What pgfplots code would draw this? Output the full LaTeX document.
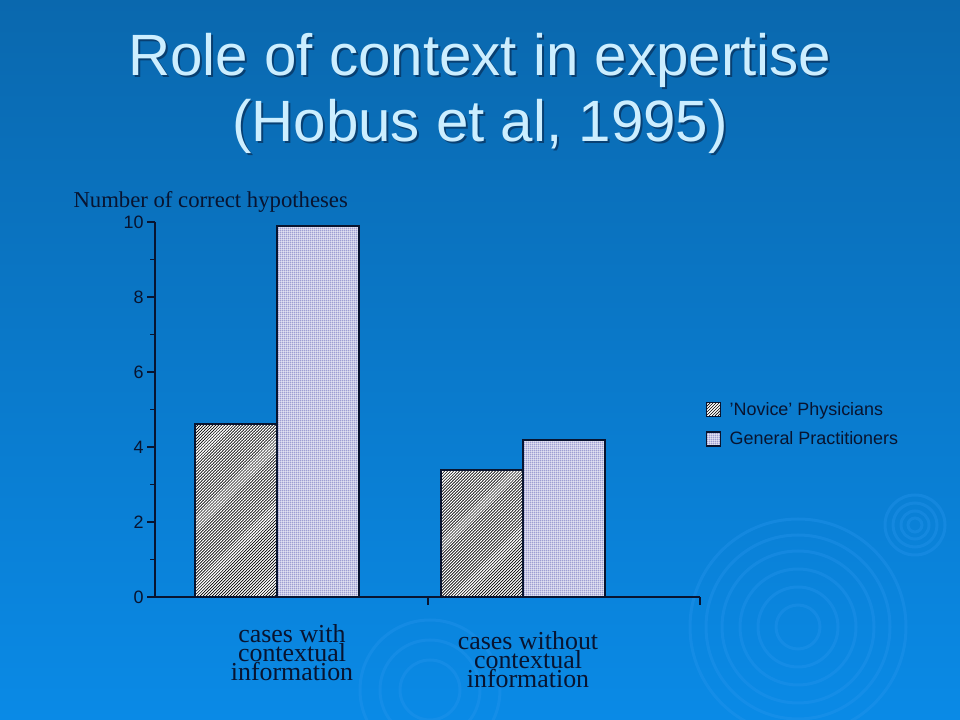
\documentclass[border=0pt]{standalone}
\usepackage{pgfplots}
\pgfplotsset{compat=1.18}
\usetikzlibrary{patterns}
\usepackage{fontspec}
\setmainfont{Liberation Sans}
\newfontfamily\serif{Liberation Serif}
\definecolor{bgtop}{RGB}{10,104,174}
\definecolor{bgbot}{RGB}{10,138,230}
\definecolor{titlecol}{RGB}{204,238,255}
\definecolor{axiscol}{RGB}{8,20,48}
\definecolor{dotcol}{RGB}{30,30,150}
\definecolor{ripple}{RGB}{40,150,238}
\pgfdeclarepatternformonly{mylines}{\pgfqpoint{-1pt}{-1pt}}{\pgfqpoint{4pt}{4pt}}{\pgfqpoint{3pt}{3pt}}{%
  \pgfsetlinewidth{1.1pt}\pgfpathmoveto{\pgfqpoint{-0.2pt}{-0.2pt}}\pgfpathlineto{\pgfqpoint{3.2pt}{3.2pt}}\pgfusepath{stroke}}
\pgfdeclarepatternformonly{mydots}{\pgfqpoint{0pt}{0pt}}{\pgfqpoint{2pt}{2pt}}{\pgfqpoint{2pt}{2pt}}{%
  \pgfpathrectangle{\pgfqpoint{0.5pt}{0.5pt}}{\pgfqpoint{0.8pt}{0.8pt}}\pgfusepath{fill}}
\begin{document}
\begin{tikzpicture}[x=1bp,y=1bp]
\useasboundingbox (0,0) rectangle (960,720);
\clip (0,0) rectangle (960,720);
\shade[top color=bgtop, bottom color=bgbot] (0,0) rectangle (960,720);
% decorative ripples
\begin{scope}[draw=ripple, line width=3bp, opacity=0.35]
\foreach \r in {22,40,58,76,92,108} \draw (798,93) circle (\r);
\foreach \r in {7,14,22,30} \draw (915,195) circle (\r);
\foreach \r in {30,50,70} \draw (430,30) circle (\r);
\end{scope}
% title
\node[anchor=base, font=\fontsize{58.5}{66}\selectfont, text=axiscol, opacity=0.5] at (482,642) {Role of context in expertise};
\node[anchor=base, font=\fontsize{58.5}{66}\selectfont, text=titlecol] at (480,644) {Role of context in expertise};
\node[anchor=base, font=\fontsize{58.5}{66}\selectfont, text=axiscol, opacity=0.5] at (482,576) {(Hobus et al, 1995)};
\node[anchor=base, font=\fontsize{58.5}{66}\selectfont, text=titlecol] at (480,578) {(Hobus et al, 1995)};
\begin{axis}[
  at={(155bp,123bp)}, anchor=south west,
  scale only axis, width=545bp, height=375bp,
  xmin=-0.496, xmax=1.72, ymin=0, ymax=10,
  axis x line*=bottom, axis y line*=left,
  axis line style={line width=2bp, color=axiscol},
  ytick={0,2,...,10}, minor ytick={1,3,...,9},
  xtick={0.614,1.72}, xticklabels={},
  tick align=outside, major tick length=8bp, minor tick length=5bp,
  every tick/.style={line width=1.5bp, color=axiscol},
  /pgf/number format/assume math mode=true,
  yticklabel style={font=\fontsize{18}{20}\selectfont, text=axiscol},
  ybar, bar width=0.333,
  legend style={at={(1.005,0.53)}, anchor=north west, draw=none, fill=none,
    font=\fontsize{18}{20}\selectfont, text=axiscol, row sep=11bp},
  legend cell align=left,
  legend image code/.code={\draw[#1, line width=1.5bp] (0bp,-7bp) rectangle (14bp,7bp); \path (20bp,0bp);},
]
\addplot[fill=black, draw=axiscol, line width=2bp, bar shift=-0.1667,
  postaction={pattern=mylines, pattern color=white}]
  coordinates {(0,4.61) (1,3.39)};
\addlegendentry{'Novice' Physicians}
\addplot[fill=white, draw=axiscol, line width=2bp, bar shift=0.1667,
  postaction={pattern=mydots, pattern color=dotcol}]
  coordinates {(0,9.89) (1,4.19)};
\addlegendentry{General Practitioners}
\end{axis}
\node[anchor=base west, font=\serif\fontsize{22.8}{24}\selectfont, text=axiscol] at (70,512) {Number of correct hypotheses};
\node[align=center, font=\serif\fontsize{26}{19}\selectfont, text=axiscol] at (292,67) {cases with\\contextual\\information};
\node[align=center, font=\serif\fontsize{26}{19}\selectfont, text=axiscol] at (528,60) {cases without\\contextual\\information};
\end{tikzpicture}
\end{document}
